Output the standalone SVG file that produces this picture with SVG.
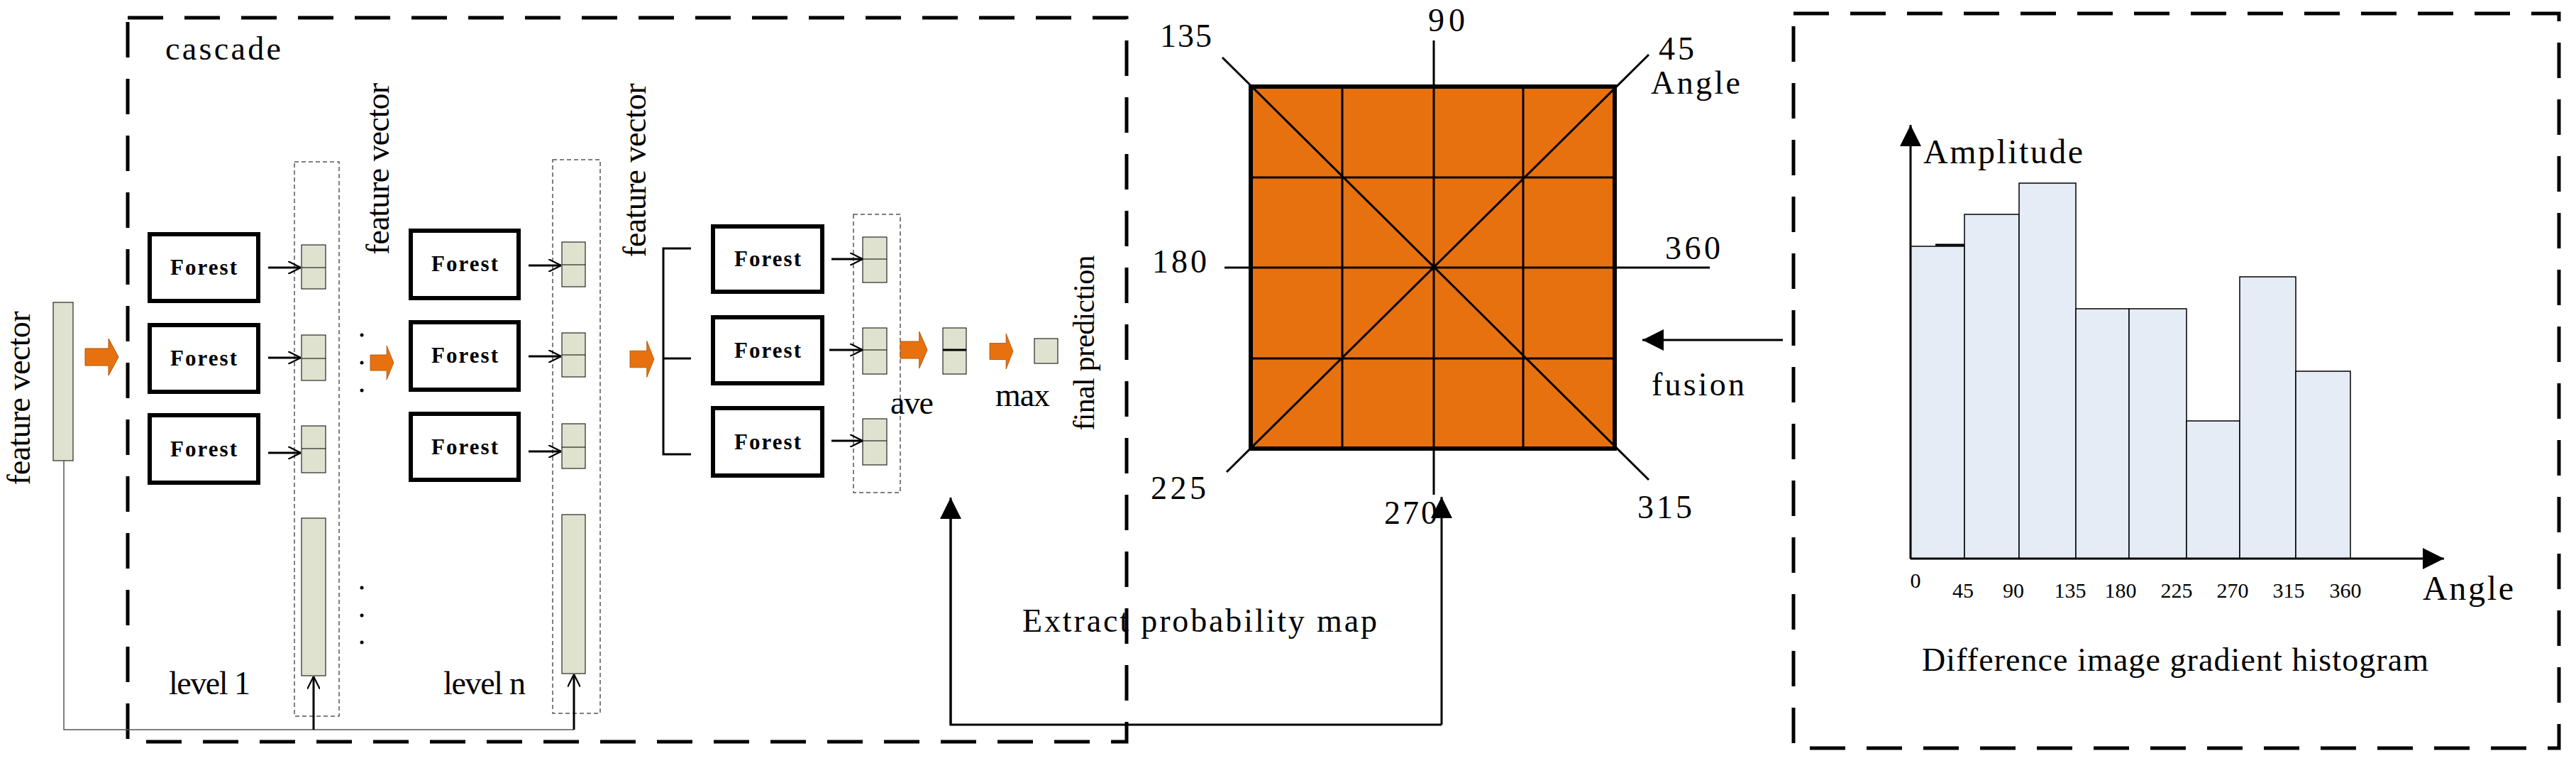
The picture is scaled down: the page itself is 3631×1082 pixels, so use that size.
<svg xmlns="http://www.w3.org/2000/svg" width="3631" height="1082" viewBox="0 0 3631 1082">
<style>
text{font-family:"Liberation Serif",serif;fill:#000}
.t{font-size:46px}
.fb{font-size:31px;font-weight:bold}
.box{fill:#fff;stroke:#000;stroke-width:6}
.cell{fill:#DEE2CE;stroke:#000;stroke-width:1}
.dash{fill:none;stroke:#000;stroke-width:5;stroke-dasharray:50 30}
.sdash{fill:none;stroke:#555;stroke-width:1.5;stroke-dasharray:6 4}
.ln{fill:none;stroke:#000;stroke-width:3}
.or{fill:#E8710F;stroke:#B05000;stroke-width:1}
.bar{fill:#E6ECF6;stroke:#000;stroke-width:1.5}
</style>
<defs>
<marker id="fa" viewBox="0 0 10 10" refX="10" refY="5" markerWidth="12" markerHeight="10" orient="auto"><path d="M0,0L10,5L0,10z" fill="#000"/></marker>
<marker id="sa" viewBox="0 0 10 10" refX="10" refY="5" markerWidth="18" markerHeight="18" markerUnits="userSpaceOnUse" orient="auto"><path d="M0,0L10,5L0,10" fill="none" stroke="#000" stroke-width="1.2"/></marker>
<path id="oarr" d="M0,-12H33V-26L47,0L33,26V12H0z"/>
</defs>

<rect class="dash" x="180" y="25" width="1408" height="1020"/>
<rect class="dash" x="2528" y="19" width="1079" height="1035"/>
<text class="t" x="233" y="84" textLength="163">cascade</text>

<g id="input">
<rect class="cell" x="75" y="426" width="28" height="223"/>
<text class="t" transform="translate(42,561) rotate(-90)" text-anchor="middle" textLength="245">feature vector</text>
<use href="#oarr" class="or" transform="translate(120,503)"/>
</g>

<g id="level1">
<rect class="box" x="211" y="330" width="153" height="94"/><text class="fb" x="287" y="387" text-anchor="middle" textLength="94">Forest</text>
<rect class="box" x="211" y="458" width="153" height="94"/><text class="fb" x="287" y="515" text-anchor="middle" textLength="94">Forest</text>
<rect class="box" x="211" y="585" width="153" height="95"/><text class="fb" x="287" y="643" text-anchor="middle" textLength="94">Forest</text>
<rect class="sdash" x="415" y="228" width="63" height="781"/>
<rect class="cell" x="425" y="345" width="34" height="62"/><line x1="425" y1="377" x2="459" y2="377" stroke="#000"/>
<rect class="cell" x="425" y="472" width="34" height="64"/><line x1="425" y1="505" x2="459" y2="505" stroke="#000"/>
<rect class="cell" x="425" y="600" width="34" height="66"/><line x1="425" y1="632" x2="459" y2="632" stroke="#000"/>
<rect class="cell" x="425" y="730" width="34" height="222"/>
<text class="t" x="238" y="978" textLength="115">level 1</text>
</g>

<g id="mid">
<g fill="#000"><circle cx="510" cy="472" r="2.5"/><circle cx="510" cy="511" r="2.5"/><circle cx="510" cy="550" r="2.5"/><circle cx="510" cy="828" r="2.5"/><circle cx="510" cy="867" r="2.5"/><circle cx="510" cy="905" r="2.5"/></g>
<text class="t" transform="translate(548,238) rotate(-90)" text-anchor="middle" textLength="242">feature vector</text>
<use href="#oarr" class="or" transform="translate(522,511) scale(0.7,0.92)"/>
</g>

<g id="levelN">
<rect class="box" x="579" y="325" width="152" height="95"/><text class="fb" x="655" y="382" text-anchor="middle" textLength="94">Forest</text>
<rect class="box" x="579" y="454" width="152" height="95"/><text class="fb" x="655" y="511" text-anchor="middle" textLength="94">Forest</text>
<rect class="box" x="579" y="583" width="152" height="93"/><text class="fb" x="655" y="640" text-anchor="middle" textLength="94">Forest</text>
<rect class="sdash" x="779" y="225" width="67" height="780"/>
<rect class="cell" x="792" y="341" width="33" height="63"/><line x1="792" y1="373" x2="825" y2="373" stroke="#000"/>
<rect class="cell" x="792" y="469" width="33" height="62"/><line x1="792" y1="500" x2="825" y2="500" stroke="#000"/>
<rect class="cell" x="792" y="597" width="33" height="63"/><line x1="792" y1="630" x2="825" y2="630" stroke="#000"/>
<rect class="cell" x="792" y="725" width="33" height="224"/>
<text class="t" x="625" y="978" textLength="116">level n</text>
</g>

<g id="final">
<text class="t" transform="translate(910,240) rotate(-90)" text-anchor="middle" textLength="245">feature vector</text>
<use href="#oarr" class="or" transform="translate(888,506) scale(0.72,0.98)"/>
<path class="ln" d="M974,350H935V640H974M935,505H974"/>
<rect class="box" x="1005" y="319" width="154" height="92"/><text class="fb" x="1082" y="375" text-anchor="middle" textLength="94">Forest</text>
<rect class="box" x="1005" y="447" width="154" height="93"/><text class="fb" x="1082" y="504" text-anchor="middle" textLength="94">Forest</text>
<rect class="box" x="1005" y="575" width="154" height="95"/><text class="fb" x="1082" y="633" text-anchor="middle" textLength="94">Forest</text>
<rect class="sdash" x="1203" y="302" width="66" height="392"/>
<rect class="cell" x="1216" y="334" width="34" height="64"/><line x1="1216" y1="365" x2="1250" y2="365" stroke="#000"/>
<rect class="cell" x="1216" y="462" width="34" height="65"/><line x1="1216" y1="493" x2="1250" y2="493" stroke="#000"/>
<rect class="cell" x="1216" y="590" width="34" height="65"/><line x1="1216" y1="621" x2="1250" y2="621" stroke="#000"/>
<use href="#oarr" class="or" transform="translate(1269,493) scale(0.81,1)"/>
<rect class="cell" x="1329" y="462" width="33" height="65"/><line x1="1329" y1="493" x2="1362" y2="493" stroke="#000" stroke-width="3"/>
<use href="#oarr" class="or" transform="translate(1395,495) scale(0.7,0.96)"/>
<rect class="cell" x="1458" y="477" width="33" height="35"/>
<text class="t" x="1255" y="583" textLength="61">ave</text>
<text class="t" x="1403" y="572" textLength="77">max</text>
<text style="font-size:42px" transform="translate(1542,483) rotate(-90)" text-anchor="middle" textLength="247">final prediction</text>
</g>

<g id="map">
<rect x="1763" y="122" width="513" height="510" fill="#E8710F"/>
<path class="ln" d="M1892,122V632M2147,122V632M1763,250H2276M1763,505H2276M2021,57V697M1726,377H2410M1723,81L2324,676M2324,77L1729,665"/>
<rect x="1763" y="122" width="513" height="510" fill="none" stroke="#000" stroke-width="6"/>
<text class="t" x="1635" y="66" textLength="73">135</text>
<text class="t" x="2013" y="44" textLength="52">90</text>
<text class="t" x="2338" y="84" textLength="50">45</text>
<text class="t" x="2327" y="132" textLength="126">Angle</text>
<text class="t" x="1624" y="384" textLength="77">180</text>
<text class="t" x="2347" y="365" textLength="78">360</text>
<text class="t" x="1622" y="703" textLength="78">225</text>
<text class="t" x="1951" y="738" textLength="75">270</text>
<text class="t" x="2308" y="730" textLength="77">315</text>
<text class="t" x="2328" y="557" textLength="131">fusion</text>
<text class="t" x="1441" y="890" textLength="500">Extract probability map</text>
</g>

<g id="hist">
<rect class="bar" x="2693" y="347" width="76" height="440"/>
<rect class="bar" x="2769" y="302" width="77" height="485"/>
<rect class="bar" x="2846" y="258" width="80" height="529"/>
<rect class="bar" x="2926" y="435" width="75" height="352"/>
<rect class="bar" x="3001" y="435" width="81" height="352"/>
<rect class="bar" x="3082" y="593" width="75" height="194"/>
<rect class="bar" x="3157" y="390" width="79" height="397"/>
<rect class="bar" x="3236" y="523" width="77" height="264"/>
<line x1="2728" y1="345" x2="2769" y2="345" stroke="#000" stroke-width="3"/>
<line class="ln" x1="2693" y1="787" x2="2693" y2="176" marker-end="url(#fa)"/>
<line class="ln" x1="2693" y1="787" x2="3445" y2="787" marker-end="url(#fa)"/>
<text style="font-size:48px" x="2711" y="230" textLength="225">Amplitude</text>
<text style="font-size:48px" x="3415" y="845" textLength="128">Angle</text>
<g style="font-size:30px" text-anchor="middle">
<text x="2700" y="828">0</text><text x="2767" y="842">45</text><text x="2838" y="842">90</text><text x="2918" y="842">135</text><text x="2989" y="842">180</text><text x="3068" y="842">225</text><text x="3147" y="842">270</text><text x="3226" y="842">315</text><text x="3306" y="842">360</text>
</g>
<text style="font-size:46px" x="2709" y="945" textLength="714">Difference image gradient histogram</text>
</g>

<g id="connectors">
<line x1="378" y1="377" x2="424" y2="377" stroke="#000" stroke-width="3" marker-end="url(#sa)"/>
<line x1="378" y1="504" x2="424" y2="504" stroke="#000" stroke-width="3" marker-end="url(#sa)"/>
<line x1="378" y1="638" x2="424" y2="638" stroke="#000" stroke-width="3" marker-end="url(#sa)"/>
<line x1="745" y1="374" x2="791" y2="374" stroke="#000" stroke-width="3" marker-end="url(#sa)"/>
<line x1="745" y1="502" x2="791" y2="502" stroke="#000" stroke-width="3" marker-end="url(#sa)"/>
<line x1="745" y1="636" x2="791" y2="636" stroke="#000" stroke-width="3" marker-end="url(#sa)"/>
<line x1="1172" y1="365" x2="1216" y2="365" stroke="#000" stroke-width="3" marker-end="url(#sa)"/>
<line x1="1169" y1="493" x2="1216" y2="493" stroke="#000" stroke-width="3" marker-end="url(#sa)"/>
<line x1="1172" y1="621" x2="1216" y2="621" stroke="#000" stroke-width="3" marker-end="url(#sa)"/>
<path d="M90,649V1028H809" fill="none" stroke="#555" stroke-width="1.5"/>
<line x1="442" y1="1028" x2="442" y2="953" stroke="#000" stroke-width="3" marker-end="url(#sa)"/>
<line x1="809" y1="1028" x2="809" y2="950" stroke="#000" stroke-width="3" marker-end="url(#sa)"/>
<path class="ln" d="M2032,1021H1340V710"/>
<line class="ln" x1="1340" y1="1021" x2="1340" y2="701" marker-end="url(#fa)"/>
<line class="ln" x1="2032" y1="1021" x2="2032" y2="700" marker-end="url(#fa)"/>
<line class="ln" x1="2513" y1="479" x2="2315" y2="479" marker-end="url(#fa)"/>
</g>
</svg>
